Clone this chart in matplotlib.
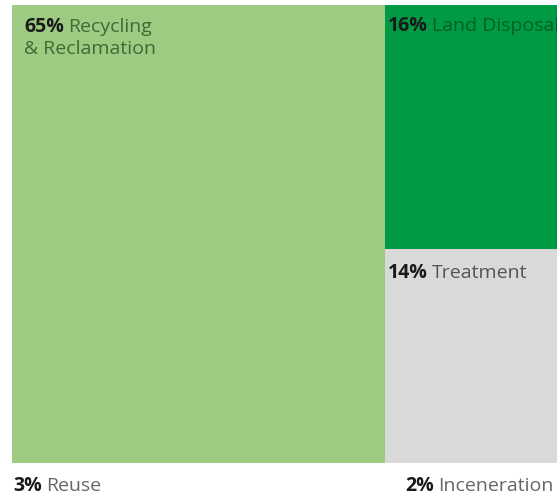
import matplotlib
matplotlib.use("Agg")
import matplotlib.pyplot as plt
from matplotlib.patches import Rectangle

plt.rcParams['font.family'] = ['Open Sans', 'DejaVu Sans']

# Share of waste handled by each method (percent)
categories = ["Recycling\n& Reclamation", "Land Disposal", "Treatment", "Reuse", "Inceneration"]
shares = [65, 16, 14, 3, 2]
fill_colors = ["#9dcb82", "#009a44", "#d9d9d9"]
name_colors = ["#3d6b35", "#005f25", "#555555", "#666666", "#666666"]

W, H = 557, 497
fig = plt.figure(figsize=(W / 100, H / 100), dpi=100)
ax = fig.add_axes([12 / W, (H - 463) / H, 1 - 12 / W, (463 - 5) / H])

# Treemap layout for the three large slices: one column on the left, two stacked on the right
big = shares[:3]
total = sum(big)
ax.set_xlim(0, total)
ax.set_ylim(0, 1)
ax.axis("off")

left_w = big[0]
right_w = total - left_w
top_h = big[1] / (big[1] + big[2])
rects = [
    (0, 0, left_w, 1),
    (left_w, 1 - top_h, right_w, top_h),
    (left_w, 0, right_w, 1 - top_h),
]
for (x, y, w, h), c in zip(rects, fill_colors):
    ax.add_patch(Rectangle((x, y), w, h, facecolor=c, edgecolor="none"))

renderer = fig.canvas.get_renderer()
FS = 14


def label(px, py, pct, name, color, align_right=False):
    """Draw a bold percentage followed by a regular-weight name at pixel (px, py) from top-left."""
    fx, fy = px / W, 1 - py / H
    t1 = fig.text(fx, fy, f"{pct}%", fontsize=FS, fontweight="bold", color="#1a1a1a",
                  va="baseline", ha="left")
    bb = t1.get_window_extent(renderer)
    lines = name.split("\n")
    t2 = fig.text((bb.x1 + 4) / W, fy, lines[0], fontsize=FS,
                  color=color, va="baseline", ha="left")
    if align_right:
        b2 = t2.get_window_extent(renderer)
        shift = (b2.x1 - (W - 4)) / W
        t1.set_x(t1.get_position()[0] - shift)
        t2.set_x(t2.get_position()[0] - shift)
    for i, ln in enumerate(lines[1:], start=1):
        fig.text(fx, fy - i * 22.5 / H, ln, fontsize=FS, color=color, va="baseline", ha="left")


label(24, 32, shares[0], categories[0], name_colors[0])
label(388, 31, shares[1], categories[1], name_colors[1])
label(388, 278, shares[2], categories[2], name_colors[2])
label(13, 491, shares[3], categories[3], name_colors[3])
label(405, 491, shares[4], categories[4], name_colors[4], align_right=True)

fig.savefig("out.png", dpi=100)
